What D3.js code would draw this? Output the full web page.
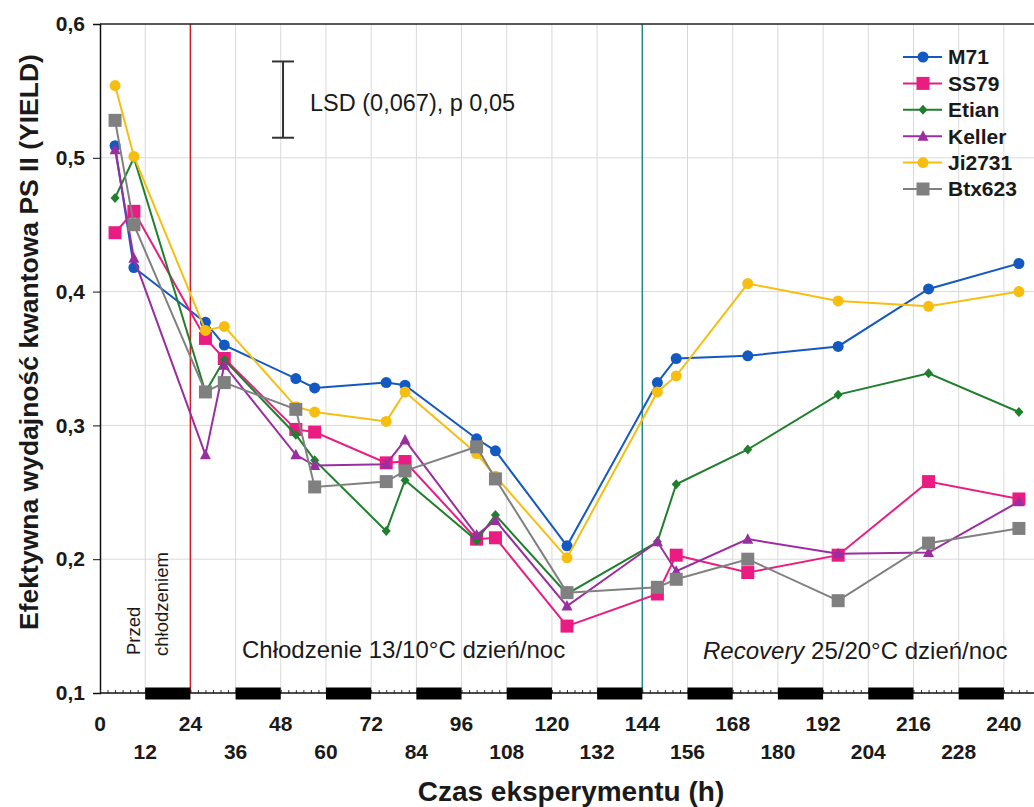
<!DOCTYPE html>
<html>
<head>
<meta charset="utf-8">
<script src="https://cdn.jsdelivr.net/npm/d3@7"></script>
<style>
  html, body { margin: 0; padding: 0; background: #fff; }
  svg { display: block; }
  text { font-family: "Liberation Sans", Arial, sans-serif; fill: #1a1a1a; }
</style>
</head>
<body>
<svg id="chart" width="1034" height="807"></svg>
<script>
// ---- data ----
const hours = [4, 9, 28, 33, 52, 57, 76, 81, 100, 105, 124, 148, 153, 172, 196, 220, 244];
const seriesNames = ["M71", "SS79", "Etian", "Keller", "Ji2731", "Btx623"];
const M71    = [0.509, 0.418, 0.377, 0.360, 0.335, 0.328, 0.332, 0.330, 0.290, 0.281, 0.210, 0.332, 0.350, 0.352, 0.359, 0.402, 0.421];
const SS79   = [0.444, 0.460, 0.365, 0.350, 0.297, 0.295, 0.272, 0.273, 0.215, 0.216, 0.150, 0.174, 0.203, 0.190, 0.203, 0.258, 0.245];
const Etian  = [0.470, 0.500, 0.325, 0.349, 0.293, 0.274, 0.221, 0.259, 0.214, 0.233, 0.174, 0.213, 0.256, 0.282, 0.323, 0.339, 0.310];
const Keller = [0.506, 0.425, 0.278, 0.345, 0.278, 0.270, 0.271, 0.289, 0.218, 0.229, 0.165, 0.213, 0.191, 0.215, 0.204, 0.205, 0.243];
const Ji2731 = [0.554, 0.501, 0.371, 0.374, 0.314, 0.310, 0.303, 0.325, 0.279, 0.262, 0.201, 0.325, 0.337, 0.406, 0.393, 0.389, 0.400];
const Btx623 = [0.528, 0.450, 0.325, 0.332, 0.312, 0.254, 0.258, 0.266, 0.284, 0.260, 0.175, 0.179, 0.185, 0.200, 0.169, 0.212, 0.223];
const seriesValues = [M71, SS79, Etian, Keller, Ji2731, Btx623];
const seriesColors = ["#1458c2", "#ea1c82", "#1f7f2c", "#9a2ea0", "#f7be12", "#808080"];
const seriesMarkers = ["circle", "square", "diamond", "triangle", "circle", "square"];

const yTicks = [0.1, 0.2, 0.3, 0.4, 0.5, 0.6];
const yTickLabels = ["0,1", "0,2", "0,3", "0,4", "0,5", "0,6"];
const xTicksRow1 = [0, 24, 48, 72, 96, 120, 144, 168, 192, 216, 240];
const xTicksRow2 = [12, 36, 60, 84, 108, 132, 156, 180, 204, 228];
const nightStarts = [12, 36, 60, 84, 108, 132, 156, 180, 204, 228]; // 12 h dark periods
const coolingStart = 24, recoveryStart = 144;
const lsdHour = 48.6, lsdTop = 0.572, lsdBottom = 0.515;

// ---- layout ----
const svg = d3.select("#chart");
const x = d3.scaleLinear().domain([0, 248]).range([100, 1034]);
const y = d3.scaleLinear().domain([0.1, 0.6]).range([693, 24]);

// gridlines
const grid = svg.append("g");
grid.selectAll("line.v").data(d3.range(12, 241, 12)).join("line")
  .attr("x1", d => x(d)).attr("x2", d => x(d))
  .attr("y1", y(0.6)).attr("y2", y(0.1))
  .attr("stroke", "#d9d9d9").attr("stroke-width", 1);
grid.selectAll("line.h").data([0.2, 0.3, 0.4, 0.5]).join("line")
  .attr("x1", x(0)).attr("x2", 1034)
  .attr("y1", d => y(d)).attr("y2", d => y(d))
  .attr("stroke", "#d9d9d9").attr("stroke-width", 1);

// phase lines
svg.append("line").attr("x1", x(coolingStart)).attr("x2", x(coolingStart))
  .attr("y1", y(0.6)).attr("y2", y(0.1)).attr("stroke", "#c8202a").attr("stroke-width", 1.5);
svg.append("line").attr("x1", x(recoveryStart)).attr("x2", x(recoveryStart))
  .attr("y1", y(0.6)).attr("y2", y(0.1)).attr("stroke", "#1f8a86").attr("stroke-width", 1.5);

// frame: top
svg.append("line").attr("x1", x(0)).attr("x2", 1034).attr("y1", y(0.6)).attr("y2", y(0.6))
  .attr("stroke", "#222").attr("stroke-width", 1.5);

// y axis
const yAxis = d3.axisLeft(y).tickValues(yTicks).tickFormat((d, i) => yTickLabels[i]).tickSize(7).tickPadding(8);
const gy = svg.append("g").attr("transform", `translate(${x(0)},0)`).call(yAxis);
gy.select(".domain").attr("stroke", "#111").attr("stroke-width", 1.5);
gy.selectAll(".tick line").attr("stroke", "#111");
gy.selectAll(".tick text").attr("font-size", 21).attr("font-weight", "bold")
  .attr("font-family", '"Liberation Sans", Arial, sans-serif').attr("fill", "#1a1a1a");

// x axis line with minor ticks
const xAxis = d3.axisBottom(x).tickValues(d3.range(0, 247, 2)).tickSize(-3).tickFormat("");
const gx = svg.append("g").attr("transform", `translate(0,${y(0.1)})`).call(xAxis);
gx.select(".domain").remove();
gx.selectAll(".tick line").attr("stroke", "#333").attr("stroke-width", 1);
svg.append("line").attr("x1", x(0)).attr("x2", 1034).attr("y1", y(0.1)).attr("y2", y(0.1))
  .attr("stroke", "#111").attr("stroke-width", 1.5);

// night bars
svg.append("g").selectAll("rect").data(nightStarts).join("rect")
  .attr("x", d => x(d)).attr("width", d => x(d + 12) - x(d))
  .attr("y", y(0.1) - 5.5).attr("height", 12).attr("fill", "#000");

// x tick labels, two rows
svg.append("g").selectAll("text").data(xTicksRow1).join("text")
  .attr("x", d => x(d)).attr("y", 731).attr("text-anchor", "middle")
  .attr("font-size", 21).attr("font-weight", "bold").text(d => d);
svg.append("g").selectAll("text").data(xTicksRow2).join("text")
  .attr("x", d => x(d)).attr("y", 759).attr("text-anchor", "middle")
  .attr("font-size", 21).attr("font-weight", "bold").text(d => d);

// axis titles
svg.append("text").attr("x", 571).attr("y", 801).attr("text-anchor", "middle")
  .attr("font-size", 28).attr("font-weight", "bold").text("Czas eksperymentu (h)");
svg.append("text").attr("transform", "translate(38,342) rotate(-90)").attr("text-anchor", "middle")
  .attr("font-size", 26.5).attr("font-weight", "bold").text("Efektywna wydajność kwantowa PS II (YIELD)");

// annotations
svg.append("text").attr("transform", "translate(140,655) rotate(-90)").attr("text-anchor", "start")
  .attr("font-size", 18.5).attr("fill", "#222").text("Przed");
svg.append("text").attr("transform", "translate(168,656) rotate(-90)").attr("text-anchor", "start")
  .attr("font-size", 18.5).attr("fill", "#222").text("chłodzeniem");
svg.append("text").attr("x", 242).attr("y", 658).attr("font-size", 24).attr("fill", "#222")
  .text("Chłodzenie 13/10°C dzień/noc");
const rec = svg.append("text").attr("x", 703).attr("y", 659).attr("font-size", 24).attr("fill", "#222");
rec.append("tspan").attr("font-style", "italic").text("Recovery");
rec.append("tspan").text(" 25/20°C dzień/noc");

// LSD bar
const lsd = svg.append("g").attr("stroke", "#333").attr("stroke-width", 2);
lsd.append("line").attr("x1", x(lsdHour)).attr("x2", x(lsdHour)).attr("y1", y(lsdTop)).attr("y2", y(lsdBottom));
lsd.append("line").attr("x1", x(lsdHour) - 11).attr("x2", x(lsdHour) + 11).attr("y1", y(lsdTop)).attr("y2", y(lsdTop));
lsd.append("line").attr("x1", x(lsdHour) - 11).attr("x2", x(lsdHour) + 11).attr("y1", y(lsdBottom)).attr("y2", y(lsdBottom));
svg.append("text").attr("x", 310).attr("y", 111).attr("font-size", 23.5).attr("fill", "#222")
  .text("LSD (0,067), p 0,05");

// markers
function drawMarker(sel, type, color) {
  if (type === "circle") {
    sel.append("circle").attr("r", 5.5).attr("fill", color);
  } else if (type === "square") {
    sel.append("rect").attr("x", -6.5).attr("y", -6.5).attr("width", 13).attr("height", 13).attr("fill", color);
  } else if (type === "diamond") {
    sel.append("path").attr("d", "M0,-5L4.5,0L0,5L-4.5,0Z").attr("fill", color);
  } else if (type === "triangle") {
    sel.append("path").attr("d", "M0,-6L5.5,4.5L-5.5,4.5Z").attr("fill", color);
  }
}

const line = d3.line().x(d => x(d[0])).y(d => y(d[1]));
seriesNames.forEach((name, i) => {
  const pts = hours.map((h, j) => [h, seriesValues[i][j]]);
  const g = svg.append("g");
  g.append("path").attr("d", line(pts)).attr("fill", "none")
    .attr("stroke", seriesColors[i]).attr("stroke-width", 2);
  g.selectAll("g.m").data(pts).join("g")
    .attr("transform", d => `translate(${x(d[0])},${y(d[1])})`)
    .each(function () { drawMarker(d3.select(this), seriesMarkers[i], seriesColors[i]); });
});

// legend
const leg = svg.append("g");
seriesNames.forEach((name, i) => {
  const ly = 57 + i * 26.4;
  leg.append("line").attr("x1", 903).attr("x2", 942).attr("y1", ly).attr("y2", ly)
    .attr("stroke", seriesColors[i]).attr("stroke-width", 2);
  const m = leg.append("g").attr("transform", `translate(923,${ly})`);
  drawMarker(m, seriesMarkers[i], seriesColors[i]);
  leg.append("text").attr("x", 948).attr("y", ly).attr("dy", "0.35em")
    .attr("font-size", 21).attr("font-weight", "bold").text(name);
});
</script>
</body>
</html>
